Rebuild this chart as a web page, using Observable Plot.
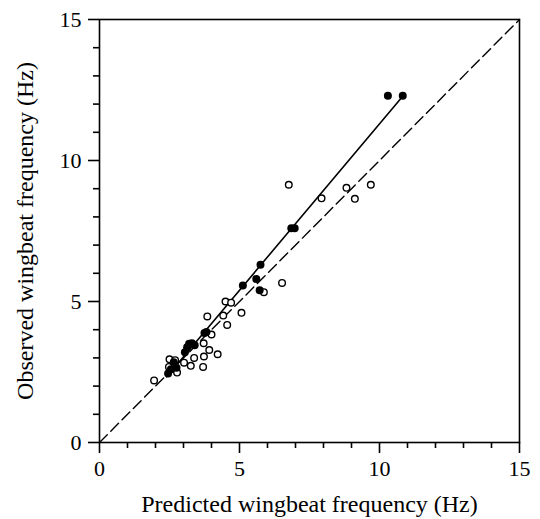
<!DOCTYPE html>
<html>
<head>
<meta charset="utf-8">
<script src="https://cdn.jsdelivr.net/npm/d3@7"></script>
<script src="https://cdn.jsdelivr.net/npm/@observablehq/plot@0.6"></script>
<style>
  html, body { margin: 0; padding: 0; background: white; }
  svg text { font-family: "Liberation Serif", "Times New Roman", "DejaVu Serif", serif !important; }
</style>
</head>
<body>
<div id="chart"></div>
<script>
// Filled circles (closed symbols)
const closedX = [2.45, 2.55, 2.65, 2.75, 3.05, 3.13, 3.2, 3.3, 3.4, 3.75, 3.82, 5.12, 5.6, 5.75, 5.72, 6.85, 6.97, 10.3, 10.83];
const closedY = [2.45, 2.6, 2.85, 2.65, 3.2, 3.38, 3.5, 3.52, 3.45, 3.88, 3.92, 5.57, 5.8, 6.3, 5.4, 7.6, 7.6, 12.3, 12.3];
// Open circles
const openX = [1.95, 2.5, 2.7, 2.48, 2.77, 3.02, 3.26, 3.38, 3.7, 3.73, 3.92, 4.22, 3.72, 4.0, 3.85, 4.42, 4.56, 5.07, 4.5, 4.7, 5.87, 6.52, 6.76, 7.93, 8.82, 9.12, 9.69];
const openY = [2.2, 2.95, 2.92, 2.68, 2.48, 2.83, 2.72, 3.0, 2.68, 3.05, 3.28, 3.13, 3.52, 3.83, 4.47, 4.5, 4.17, 4.6, 5.0, 4.96, 5.33, 5.66, 9.14, 8.66, 9.03, 8.64, 9.14];
// Regression line (solid) end points
const fitX = [2.4, 10.83];
const fitY = [2.33, 12.28];
// Line of equality (dashed)
const diagX = [0, 15];
const diagY = [0, 15];
// Ticks
const majorTicks = [0, 5, 10, 15];
const minorTicks = [1, 2, 3, 4, 6, 7, 8, 9, 11, 12, 13, 14];
const xLabel = "Predicted wingbeat frequency (Hz)";
const yLabel = "Observed wingbeat frequency (Hz)";

const closed = closedX.map((x, i) => ({x, y: closedY[i]}));
const open = openX.map((x, i) => ({x, y: openY[i]}));
const fit = fitX.map((x, i) => ({x, y: fitY[i]}));
const diag = diagX.map((x, i) => ({x, y: diagY[i]}));

const serif = "Liberation Serif, Times New Roman, DejaVu Serif, serif";

const chart = Plot.plot({
  width: 540,
  height: 519,
  marginLeft: 99,
  marginRight: 21,
  marginTop: 19,
  marginBottom: 77,
  x: {domain: [0, 15]},
  y: {domain: [0, 15]},
  style: {fontFamily: serif, fontSize: "22px", background: "white", color: "black", overflow: "visible"},
  marks: [
    Plot.frame({stroke: "black", strokeWidth: 1.6}),
    Plot.axisX(majorTicks, {tickSize: 11, tickPadding: 7, tickFormat: d => String(d), label: null, strokeWidth: 1.6, fontSize: 22, fontFamily: serif}),
    Plot.axisX(minorTicks, {tickSize: 6, text: null, label: null, strokeWidth: 1.6}),
    Plot.axisY(majorTicks, {tickSize: 11, tickPadding: 7, tickFormat: d => String(d), label: null, strokeWidth: 1.6, fontSize: 22, fontFamily: serif}),
    Plot.axisY(minorTicks, {tickSize: 6, text: null, label: null, strokeWidth: 1.6}),
    Plot.line(diag, {x: "x", y: "y", stroke: "black", strokeWidth: 1.4, strokeDasharray: "11,5"}),
    Plot.line(fit, {x: "x", y: "y", stroke: "black", strokeWidth: 1.6}),
    Plot.dot(open, {x: "x", y: "y", r: 3.3, fill: "white", stroke: "black", strokeWidth: 1.4}),
    Plot.dot(closed, {x: "x", y: "y", r: 4, fill: "black", stroke: "none"}),
    Plot.text([xLabel], {text: d => d, frameAnchor: "bottom", dy: 62, lineAnchor: "middle", textAnchor: "middle", fontSize: 24, fontFamily: serif}),
    Plot.text([yLabel], {text: d => d, frameAnchor: "left", dx: -74, rotate: -90, lineAnchor: "middle", textAnchor: "middle", fontSize: 24, fontFamily: serif})
  ]
});
document.getElementById("chart").appendChild(chart);
</script>
</body>
</html>
